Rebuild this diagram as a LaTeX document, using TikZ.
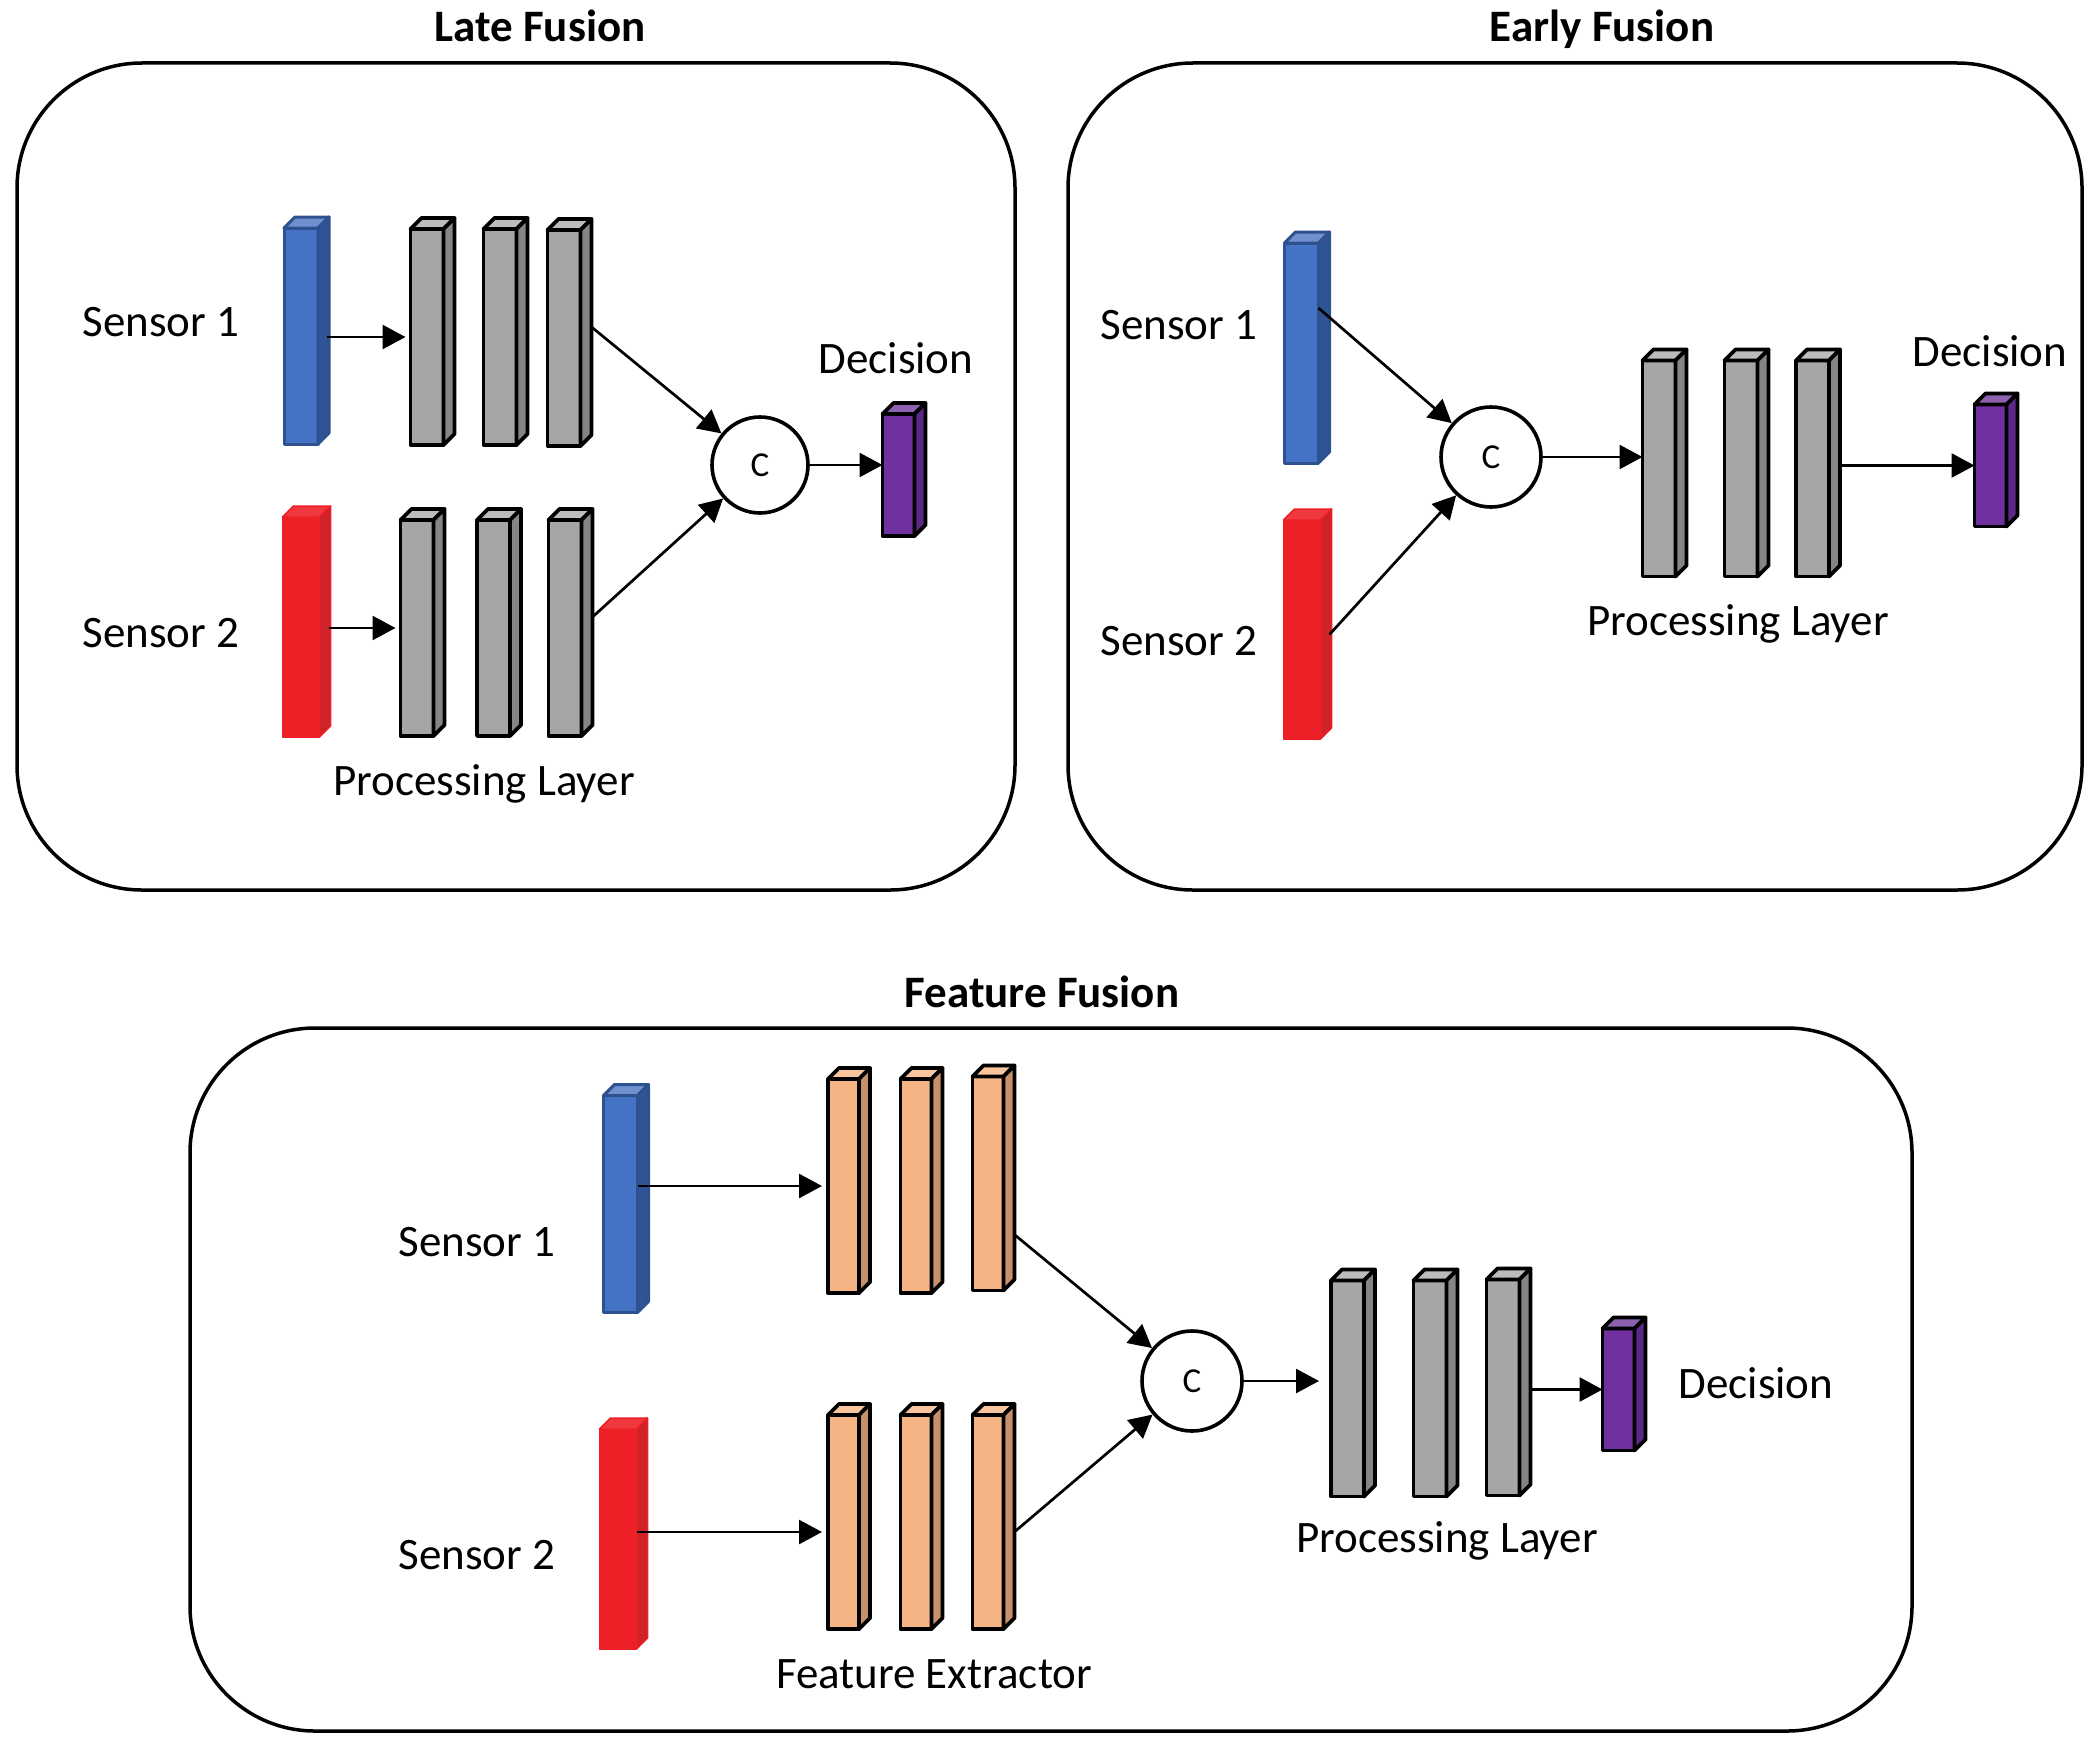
\documentclass[tikz,border=0pt]{standalone}
\usepackage{fontspec}
\setmainfont{Carlito}
\usetikzlibrary{arrows.meta}
\definecolor{blueF}{HTML}{4472C4}
\definecolor{blueS}{HTML}{2F5597}
\definecolor{blueT}{HTML}{7090D0}
\definecolor{blueD}{HTML}{2E5290}
\definecolor{redF}{HTML}{ED1F27}
\definecolor{redS}{HTML}{CF2329}
\definecolor{redT}{HTML}{F0393F}
\definecolor{grayF}{HTML}{A6A6A6}
\definecolor{grayS}{HTML}{858585}
\definecolor{grayT}{HTML}{BCBCBC}
\definecolor{orF}{HTML}{F4B483}
\definecolor{orS}{HTML}{C8906A}
\definecolor{orT}{HTML}{F8C49E}
\definecolor{puF}{HTML}{7030A0}
\definecolor{puS}{HTML}{5C2888}
\definecolor{puT}{HTML}{8C62B0}
\newcommand\threed[4]{%
  \filldraw[fill=#2,#4] (#1.north west) -- ++(11,-11) -- ([shift={(11,-11)}]#1.north east) -- (#1.north east) -- cycle;
  \filldraw[fill=#3,#4] (#1.north east) -- ([shift={(11,-11)}]#1.north east) -- ([shift={(11,-11)}]#1.south east) -- (#1.south east) -- cycle;
}
\begin{document}
\begin{tikzpicture}[x=1pt,y=-1pt,
  barbase/.style={rectangle, inner sep=0pt, outer sep=0pt, line join=round},
  kface/.style={draw=black, line width=3.8pt, line join=round},
  bface/.style={draw=blueD, line width=3pt, line join=round},
  rface/.style={draw=redF, line width=1.5pt, line join=round},
  gbar/.style={barbase, fill=grayF, kface, minimum width=33pt, minimum height=216pt},
  obar/.style={barbase, fill=orF, kface, minimum width=31pt, minimum height=214pt},
  pbar/.style={barbase, fill=puF, kface, minimum width=32pt, minimum height=122pt},
  bbar/.style={barbase, fill=blueF, bface, minimum width=34pt, minimum height=216pt},
  rbar/.style={barbase, fill=redF, rface, minimum width=37pt, minimum height=220pt},
  lbl/.style={anchor=base, inner sep=0pt, font=\fontsize{45}{54}\selectfont},
  ttl/.style={anchor=base, inner sep=0pt, font=\fontsize{45}{54}\selectfont\bfseries},
  arr/.style={line width=2.7pt, -{Triangle[length=23pt,width=24pt]}},
  panel/.style={line width=3.5pt, rounded corners=125pt},
  cnode/.style={circle, draw=black, line width=3.6pt, minimum size=96pt, inner sep=0pt, fill=white, font=\fontsize{35}{42}\selectfont}
]
\useasboundingbox (0,0) rectangle (2100,1755);

% ---------- panels ----------
\draw[panel] (17,63) rectangle (1015,890);
\draw[panel] (1068,63) rectangle (2082,890);
\draw[panel] (190,1028) rectangle (1912,1731);

\node[ttl] (t1) at (540,42) {Late Fusion};
\node[ttl] (t2) at (1602,42) {Early Fusion};
\node[ttl] (t3) at (1042,1007) {Feature Fusion};

% ---------- Late fusion ----------
\node[bbar] (s1a) at (301,336) {};
\node[gbar] (g11) at (427,337) {};
\node[gbar] (g12) at (500,337) {};
\node[gbar] (g13) at (564,338) {};
\node[rbar] (s1b) at (301,627) {};
\node[gbar] (g21) at (417,628) {};
\node[gbar] (g22) at (493.5,628) {};
\node[gbar] (g23) at (565,628) {};
\node[cnode] (c1) at (760,465) {C};
\node[pbar] (p1) at (898.5,475) {};
\threed{s1a}{blueT}{blueS}{bface}
\threed{s1b}{redT}{redS}{rface}
\threed{g11}{grayT}{grayS}{kface}
\threed{g12}{grayT}{grayS}{kface}
\threed{g13}{grayT}{grayS}{kface}
\threed{g21}{grayT}{grayS}{kface}
\threed{g22}{grayT}{grayS}{kface}
\threed{g23}{grayT}{grayS}{kface}
\threed{p1}{puT}{puS}{kface}

\node[lbl] (l1a) at (161,336) {Sensor 1};
\node[lbl] (l1b) at (161,647) {Sensor 2};
\node[lbl] (d1) at (896,373) {Decision};
\node[lbl] (pl1) at (484,795) {Processing Layer};

\draw[arr, shorten >=5pt] ([xshift=9pt]g11.west -| s1a.east) -- (g11.west);
\draw[arr, shorten >=5pt] ([xshift=9pt]g21.west -| s1b.east) -- (g21.west);
\draw[arr] ([shift={(11,-11)}]g13.east) -- (c1);
\draw[arr] ([shift={(11,-11)}]g23.east) -- (c1);
\draw[arr] (c1.east) -- (c1.east -| p1.west);

% ---------- Early fusion ----------
\node[bbar, minimum height=220pt] (s2a) at (1301.5,353) {};
\node[rbar, minimum height=219pt] (s2b) at (1302,629.5) {};
\node[cnode, minimum size=100pt] (c2) at (1491,457) {C};
\node[gbar] (g31) at (1659,468.5) {};
\node[gbar] (g32) at (1741,468.5) {};
\node[gbar] (g33) at (1812.5,468.5) {};
\node[pbar] (p2) at (1990.5,465.5) {};
\threed{s2a}{blueT}{blueS}{bface}
\threed{s2b}{redT}{redS}{rface}
\threed{g31}{grayT}{grayS}{kface}
\threed{g32}{grayT}{grayS}{kface}
\threed{g33}{grayT}{grayS}{kface}
\threed{p2}{puT}{puS}{kface}

\node[lbl] (l2a) at (1179,339) {Sensor 1};
\node[lbl] (l2b) at (1179,655) {Sensor 2};
\node[lbl] (d2) at (1990,366) {Decision};
\node[lbl] (pl2) at (1738,635) {Processing Layer};

\draw[arr] ([yshift=45pt]s2a.east) -- (c2);
\draw[arr] ([xshift=9pt,yshift=-5pt]s2b.east) -- (c2);
\draw[arr] (c2.east) -- (c2.east -| g31.west);
\draw[arr] ([xshift=11pt]p2.west -| g33.east) -- (p2.west);

% ---------- Feature fusion ----------
\node[bbar, minimum height=217pt] (s3a) at (620.5,1204) {};
\node[rbar] (s3b) at (618,1539) {};
\node[obar] (f11) at (843.5,1186) {};
\node[obar] (f12) at (916,1186) {};
\node[obar] (f13) at (988,1183.5) {};
\node[obar] (f21) at (843.5,1522) {};
\node[obar] (f22) at (916,1522) {};
\node[obar] (f23) at (988,1522) {};
\node[cnode, minimum size=100pt] (c3) at (1192,1381) {C};
\node[gbar] (g41) at (1347.5,1388.5) {};
\node[gbar] (g42) at (1430,1388.5) {};
\node[gbar] (g43) at (1503,1387.5) {};
\node[pbar] (p3) at (1618.5,1389.5) {};
\threed{s3a}{blueT}{blueS}{bface}
\threed{s3b}{redT}{redS}{rface}
\threed{f11}{orT}{orS}{kface}
\threed{f12}{orT}{orS}{kface}
\threed{f13}{orT}{orS}{kface}
\threed{f21}{orT}{orS}{kface}
\threed{f22}{orT}{orS}{kface}
\threed{f23}{orT}{orS}{kface}
\threed{g41}{grayT}{grayS}{kface}
\threed{g42}{grayT}{grayS}{kface}
\threed{g43}{grayT}{grayS}{kface}
\threed{p3}{puT}{puS}{kface}

\node[lbl] (l3a) at (477,1256) {Sensor 1};
\node[lbl] (l3b) at (477,1569) {Sensor 2};
\node[lbl] (fe) at (934,1688) {Feature Extractor};
\node[lbl] (pl3) at (1447,1552) {Processing Layer};
\node[lbl] (d3) at (1756,1398) {Decision};

\draw[arr, shorten >=6pt] (f11.west -| s3a.east) -- (f11.west);
\draw[arr, shorten >=6pt] ([yshift=-10pt]f21.west -| s3b.east) -- ([yshift=-10pt]f21.west);
\draw[arr] ([shift={(12,52)}]f13.east) -- (c3);
\draw[arr] ([shift={(12,9)}]f23.east) -- (c3);
\draw[arr, shorten >=12pt] (c3.east) -- (c3.east -| g41.west);
\draw[arr] ([xshift=12pt]p3.west -| g43.east) -- (p3.west);
\end{tikzpicture}
\end{document}
